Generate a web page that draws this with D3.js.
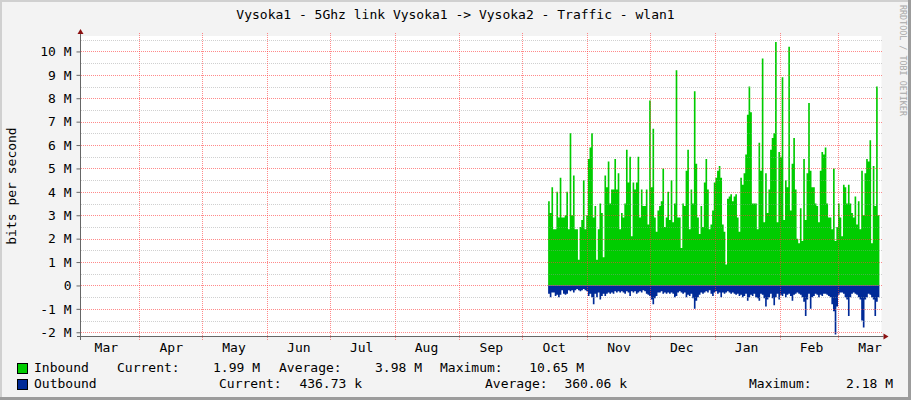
<!DOCTYPE html>
<html>
<head>
<meta charset="utf-8">
<script src="https://cdn.jsdelivr.net/npm/d3@7"></script>
<style>
  body { margin: 0; background: #ffffff; }
  text { font-family: "DejaVu Sans Mono", monospace; }
</style>
</head>
<body>
<script>
var title = "Vysoka1 - 5Ghz link Vysoka1 -> Vysoka2 - Traffic - wlan1";
var yLabel = "bits per second";
var watermark = "RRDTOOL / TOBI OETIKER";
var months = ["Mar", "Apr", "May", "Jun", "Jul", "Aug", "Sep", "Oct", "Nov", "Dec", "Jan", "Feb", "Mar"];
var yTicks = [-2, -1, 0, 1, 2, 3, 4, 5, 6, 7, 8, 9, 10]; // M bits/s

// samples every 19 hours, values in M bits/s
var dataStart = new Date(2018, 9, 13, 9);
var stepHours = 19;
var inbound = [
  3.6, 3.1, 4.2, 2.4, 2.4, 4.0, 2.9, 4.6, 2.9, 2.9, 3.0, 4.0, 2.4, 6.5, 3.0, 4.7, 2.4, 2.4, 1.1, 2.5,
  2.8, 4.5, 2.4, 3.0, 5.4, 5.9, 6.5, 2.9, 3.4, 1.1, 2.4, 3.5, 3.1, 1.2, 4.7, 4.2, 5.3, 3.5, 4.1, 4.1,
  5.4, 4.1, 4.8, 2.4, 3.1, 2.9, 3.5, 5.8, 4.4, 5.5, 2.1, 4.4, 4.1, 4.4, 5.5, 2.9, 4.1, 3.4, 3.4, 4.1,
  2.6, 7.9, 4.2, 6.7, 2.9, 2.3, 3.2, 3.4, 3.6, 5.0, 2.5, 2.9, 4.0, 2.8, 4.5, 2.7, 3.5, 9.2, 2.9, 2.9,
  1.6, 3.5, 3.4, 4.9, 5.8, 2.4, 4.1, 3.5, 8.3, 5.2, 2.9, 2.2, 3.4, 2.5, 4.4, 5.4, 4.1, 2.4, 2.6, 3.2,
  4.4, 4.6, 4.9, 5.1, 4.6, 2.6, 2.3, 0.9, 3.7, 3.8, 3.9, 3.6, 3.8, 3.9, 2.9, 2.3, 4.6, 4.3, 4.8, 5.6,
  7.3, 8.5, 7.4, 3.5, 3.5, 3.5, 2.4, 6.1, 4.9, 9.7, 2.7, 4.8, 3.1, 4.1, 5.8, 6.3, 6.5, 10.4, 2.7, 5.7,
  5.5, 8.9, 2.8, 4.5, 4.2, 10.2, 3.2, 5.2, 6.3, 4.1, 2.0, 1.8, 3.3, 1.9, 5.4, 2.8, 4.8, 7.8, 4.9, 4.2,
  4.2, 3.5, 3.4, 2.7, 4.9, 5.7, 5.6, 5.9, 3.5, 2.9, 2.9, 2.4, 5.0, 1.9, 2.5, 3.5, 2.9, 2.1, 4.3, 4.2,
  3.5, 4.3, 3.5, 3.1, 2.9, 3.8, 2.6, 3.6, 2.4, 4.9, 3.0, 4.8, 5.4, 5.3, 6.2, 1.8, 5.1, 3.4, 8.5, 3.0
];
var outbound = [
  -0.35, -0.5, -0.3, -0.3, -0.45, -0.4, -0.5, -0.4, -0.2, -0.35, -0.4, -0.35, -0.2, -0.25, -0.2, -0.3, -0.2, -0.15, -0.2, -0.25,
  -0.2, -0.15, -0.2, -0.25, -0.45, -0.35, -0.5, -0.8, -0.35, -0.5, -0.3, -0.6, -0.45, -0.35, -0.45, -0.35, -0.3, -0.35, -0.3, -0.35,
  -0.25, -0.3, -0.25, -0.3, -0.25, -0.3, -0.35, -0.25, -0.3, -0.45, -0.25, -0.3, -0.25, -0.35, -0.3, -0.25, -0.3, -0.2, -0.25, -0.35,
  -0.4, -0.45, -0.6, -0.8, -0.55, -0.45, -0.3, -0.3, -0.25, -0.35, -0.3, -0.35, -0.3, -0.35, -0.3, -0.35, -0.5, -0.45, -0.3, -0.25,
  -0.3, -0.35, -0.3, -0.5, -0.4, -0.45, -0.35, -0.55, -1.0, -0.65, -0.5, -0.4, -0.3, -0.35, -0.3, -0.25, -0.3, -0.2, -0.35, -0.45,
  -0.3, -0.25, -0.35, -0.3, -0.5, -0.3, -0.35, -0.3, -0.25, -0.3, -0.35, -0.3, -0.35, -0.4, -0.35, -0.45, -0.4, -0.5, -0.45, -0.35,
  -0.65, -0.5, -0.4, -0.45, -0.35, -0.5, -0.55, -0.65, -0.35, -0.4, -0.55, -0.9, -0.6, -0.5, -0.35, -0.55, -0.85, -0.5, -0.35, -0.6,
  -0.4, -0.45, -0.35, -0.5, -0.4, -0.35, -0.45, -0.65, -0.4, -0.35, -0.3, -0.35, -0.4, -0.5, -0.7, -1.3, -0.6, -0.35, -1.0, -0.5,
  -0.45, -0.35, -0.4, -0.5, -0.4, -0.45, -0.35, -0.35, -0.4, -0.45, -0.5, -0.8, -1.1, -2.1, -0.9, -0.4, -0.3, -0.3, -0.35, -0.5,
  -0.6, -1.3, -0.5, -0.35, -0.3, -0.35, -0.4, -0.5, -0.6, -1.5, -1.8, -0.6, -0.5, -0.35, -0.4, -0.5, -0.6, -1.3, -0.7, -0.5
];

var legendNames = ["Inbound", "Outbound"];
var legendColors = ["#00CC00", "#002A97"];
var legendCurrent = ["1.99 M", "436.73 k"];
var legendAverage = ["3.98 M", "360.06 k"];
var legendMaximum = ["10.65 M", "2.18 M"];

var w = 911;
var h = 400;
var plotLeft = 81, plotRight = 881.5, plotTop = 36, plotBottom = 336;
var majorGrid = "rgba(255,60,60,0.6)";
var minorGrid = "rgba(150,150,150,0.45)";

var svg = d3.select("body").append("svg")
    .attr("width", w)
    .attr("height", h);

// canvas + frame
svg.append("rect").attr("width", w).attr("height", h).attr("fill", "#f3f3f3");
svg.append("rect").attr("x", 0).attr("y", 0).attr("width", w).attr("height", 2).attr("fill", "#d0d0d0");
svg.append("rect").attr("x", 0).attr("y", 0).attr("width", 2).attr("height", h).attr("fill", "#d0d0d0");
svg.append("rect").attr("x", w - 3).attr("y", 0).attr("width", 3).attr("height", h).attr("fill", "#9c9c9c");
svg.append("rect").attr("x", 0).attr("y", h - 3).attr("width", w).attr("height", 3).attr("fill", "#9c9c9c");

svg.append("rect")
    .attr("x", plotLeft).attr("y", plotTop)
    .attr("width", plotRight - plotLeft).attr("height", plotBottom - plotTop)
    .attr("fill", "#ffffff");

var x = d3.scaleTime()
    .domain([new Date(2018, 2, 4, 3), new Date(2019, 2, 21, 17)])
    .range([plotLeft, plotRight]);

var y = d3.scaleLinear()
    .domain([-2.16, 10.66])
    .range([plotBottom, plotTop]);

function toPoints(values) {
    var pts = values.map(function(v, i) {
        return { t: d3.timeHour.offset(dataStart, i * stepHours), v: v };
    });
    pts.push({ t: d3.timeHour.offset(dataStart, values.length * stepHours), v: values[values.length - 1] });
    return pts;
}

var area = d3.area()
    .x(function(d) { return x(d.t); })
    .y0(y(0))
    .y1(function(d) { return y(d.v); })
    .curve(d3.curveStepAfter);

svg.append("path").datum(toPoints(inbound)).attr("d", area).attr("fill", legendColors[0]);
svg.append("path").datum(toPoints(outbound)).attr("d", area).attr("fill", legendColors[1]);

// grid on top of data, like rrdtool
var minor = d3.range(-2, 10.51, 0.5).filter(function(v) { return v % 1 !== 0; });
svg.append("g").attr("shape-rendering", "crispEdges")
    .selectAll("line").data(minor).enter().append("line")
    .attr("x1", plotLeft).attr("x2", plotRight + 1)
    .attr("y1", function(d) { return Math.round(y(d)) + 0.5; })
    .attr("y2", function(d) { return Math.round(y(d)) + 0.5; })
    .attr("stroke", minorGrid)
    .attr("stroke-dasharray", "1,1");

svg.append("g").attr("shape-rendering", "crispEdges")
    .selectAll("line").data(yTicks).enter().append("line")
    .attr("x1", plotLeft).attr("x2", plotRight + 1)
    .attr("y1", function(d) { return Math.round(y(d)) + 0.5; })
    .attr("y2", function(d) { return Math.round(y(d)) + 0.5; })
    .attr("stroke", majorGrid)
    .attr("stroke-dasharray", "1,1");

var monthStarts = d3.timeMonth.range(x.domain()[0], x.domain()[1]);
svg.append("g").attr("shape-rendering", "crispEdges")
    .selectAll("line").data(monthStarts).enter().append("line")
    .attr("x1", function(d) { return Math.round(x(d)) + 0.5; })
    .attr("x2", function(d) { return Math.round(x(d)) + 0.5; })
    .attr("y1", plotTop - 3).attr("y2", plotBottom + 4)
    .attr("stroke", majorGrid)
    .attr("stroke-dasharray", "1,1");

// y axis
var yAxis = svg.append("g")
    .attr("transform", "translate(" + (plotLeft - 0.5) + ",0)")
    .call(d3.axisLeft(y)
        .tickValues(yTicks)
        .tickSize(4)
        .tickPadding(5)
        .tickFormat(function(d) { return d === 0 ? "0" : d + " M"; }));
yAxis.select(".domain").remove();
yAxis.selectAll(".tick line").attr("stroke", "#666");
yAxis.selectAll("text").attr("font-size", 13).attr("fill", "#000")
    .attr("font-family", "DejaVu Sans Mono");

// month labels sit in the middle of each month
var monthMids = d3.timeMonth.range(new Date(2018, 2, 1), new Date(2019, 3, 1))
    .map(function(d) { return d3.timeDay.offset(d, 15); });
var xAxis = svg.append("g")
    .attr("transform", "translate(0," + plotBottom + ")")
    .call(d3.axisBottom(x)
        .tickValues(monthMids)
        .tickSize(0)
        .tickPadding(7)
        .tickFormat(function(d, i) { return months[i]; }));
xAxis.select(".domain").remove();
xAxis.selectAll("text").attr("font-size", 13).attr("fill", "#000")
    .attr("font-family", "DejaVu Sans Mono");

// axis lines and arrows
svg.append("line")
    .attr("x1", plotLeft - 4).attr("x2", plotRight + 2)
    .attr("y1", plotBottom + 0.5).attr("y2", plotBottom + 0.5)
    .attr("stroke", "#666");
svg.append("line")
    .attr("x1", plotLeft - 0.5).attr("x2", plotLeft - 0.5)
    .attr("y1", plotTop - 3).attr("y2", plotBottom + 4)
    .attr("stroke", "#666");
svg.append("path")
    .attr("d", "M" + (plotLeft - 3.5) + "," + (plotTop - 2) + "L" + (plotLeft - 0.5) + "," + (plotTop - 7) + "L" + (plotLeft + 2.5) + "," + (plotTop - 2) + "Z")
    .attr("fill", "#8b1010");
svg.append("path")
    .attr("d", "M" + (plotRight + 2) + "," + (plotBottom - 2.5) + "L" + (plotRight + 7) + "," + (plotBottom + 0.5) + "L" + (plotRight + 2) + "," + (plotBottom + 3.5) + "Z")
    .attr("fill", "#8b1010");

// texts
svg.append("text")
    .attr("x", 455.5).attr("y", 19)
    .attr("text-anchor", "middle")
    .attr("font-size", 13)
    .text(title);

svg.append("text")
    .attr("transform", "translate(16,186) rotate(-90)")
    .attr("text-anchor", "middle")
    .attr("font-size", 13)
    .text(yLabel);

svg.append("text")
    .attr("transform", "translate(899.5,5) rotate(90)")
    .attr("font-size", 8.4)
    .attr("fill", "#a8a8a8")
    .text(watermark);

// legend
var rowY = [372, 388];
var labelX = [[117, 279, 440], [219, 485, 749]];
var valueX = [[260, 422, 584], [362, 627, 893]];
legendNames.forEach(function(name, i) {
    var g = svg.append("g").attr("font-size", 13).attr("fill", "#000");
    g.append("rect")
        .attr("x", 17.5).attr("y", rowY[i] - 8.5)
        .attr("width", 10).attr("height", 10)
        .attr("fill", legendColors[i])
        .attr("stroke", "#000");
    g.append("text").attr("x", 34).attr("y", rowY[i]).text(name);
    var labels = ["Current:", "Average:", "Maximum:"];
    var vals = [legendCurrent[i], legendAverage[i], legendMaximum[i]];
    labels.forEach(function(lab, j) {
        g.append("text").attr("x", labelX[i][j]).attr("y", rowY[i]).text(lab);
        g.append("text").attr("x", valueX[i][j]).attr("y", rowY[i])
            .attr("text-anchor", "end").text(vals[j]);
    });
});
</script>
</body>
</html>
